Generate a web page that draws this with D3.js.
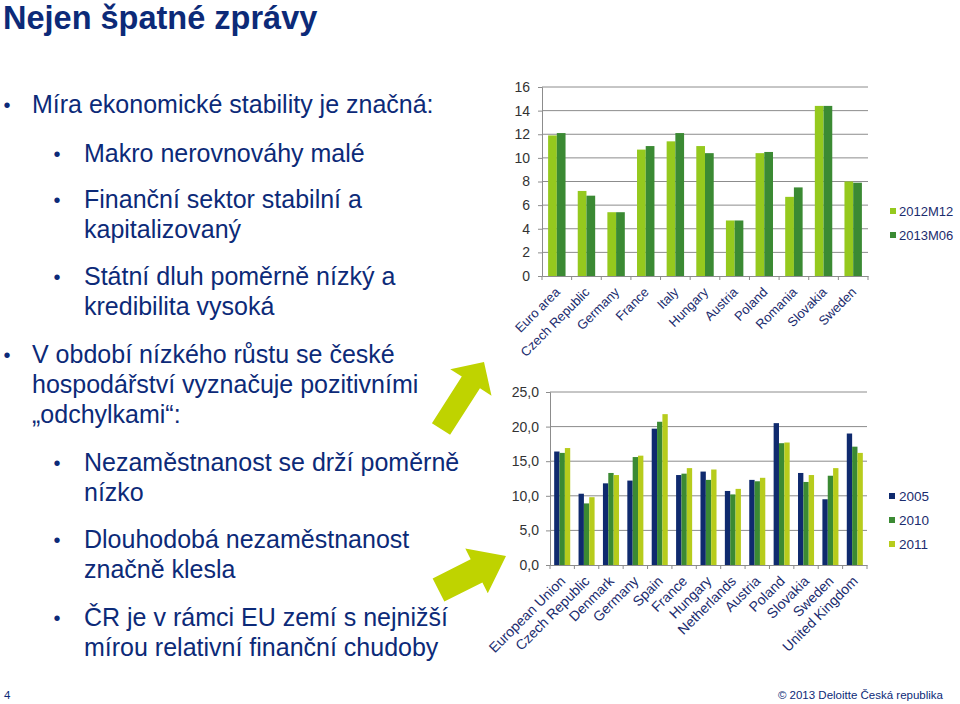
<!DOCTYPE html>
<html><head><meta charset="utf-8">
<script src="https://cdn.jsdelivr.net/npm/d3@7"></script>
<style>
html,body{margin:0;padding:0;background:#fff;}
svg{display:block;font-family:"Liberation Sans",Arial,Helvetica,sans-serif;}
</style></head>
<body>
<script>
// ---------- DATA ----------
const topCategories = ["Euro area","Czech Republic","Germany","France","Italy","Hungary","Austria","Poland","Romania","Slovakia","Sweden"];
const topSeriesNames = ["2012M12","2013M06"];
const top2012M12 = [11.9,7.2,5.4,10.7,11.4,11.0,4.7,10.4,6.7,14.4,8.0];
const top2013M06 = [12.1,6.8,5.4,11.0,12.1,10.4,4.7,10.5,7.5,14.4,7.9];
const topTicks = [0,2,4,6,8,10,12,14,16];

const bottomCategories = ["European Union","Czech Republic","Denmark","Germany","Spain","France","Hungary","Netherlands","Austria","Poland","Slovakia","Sweden","United Kingdom"];
const bottomSeriesNames = ["2005","2010","2011"];
const bottom2005 = [16.4,10.3,11.8,12.2,19.7,13.0,13.5,10.7,12.3,20.5,13.3,9.5,19.0];
const bottom2010 = [16.2,8.9,13.3,15.6,20.7,13.2,12.3,10.2,12.1,17.6,12.0,12.9,17.1];
const bottom2011 = [16.9,9.8,13.0,15.8,21.8,14.0,13.8,11.0,12.6,17.7,13.0,14.0,16.2];
const bottomTicks = [0,5,10,15,20,25];

const titleText = "Nejen špatné zprávy";
const bulletLines = [
  {lvl:0, lines:["Míra ekonomické stability je značná:"], y:113},
  {lvl:1, lines:["Makro nerovnováhy malé"], y:162},
  {lvl:1, lines:["Finanční sektor stabilní a","kapitalizovaný"], y:208},
  {lvl:1, lines:["Státní dluh poměrně nízký a","kredibilita vysoká"], y:285},
  {lvl:0, lines:["V období nízkého růstu se české","hospodářství vyznačuje pozitivními","„odchylkami“:"], y:363},
  {lvl:1, lines:["Nezaměstnanost se drží poměrně","nízko"], y:471},
  {lvl:1, lines:["Dlouhodobá nezaměstnanost","značně klesla"], y:548},
  {lvl:1, lines:["ČR je v rámci EU zemí s nejnižší","mírou relativní finanční chudoby"], y:626}
];

// ---------- STYLE ----------
const navy = "#0c2a78";
const labelNavy = "#1b2c6e";
const grid = "#8c8c8c";
const topColors = ["#95c91e","#3b8a33"];
const bottomColors = ["#0f2a6e","#3b8a33","#b7cc1c"];
const lime = "#bfd300";

const svg = d3.select("body").append("svg").attr("width",960).attr("height",704);

// Title
svg.append("text").attr("x",3).attr("y",29).attr("font-size",32.5).attr("font-weight","bold")
  .attr("fill",navy).text(titleText);

// Bullets
bulletLines.forEach(b=>{
  const bx = b.lvl===0 ? 7 : 57;
  const tx = b.lvl===0 ? 32 : 84;
  svg.append("text").attr("x",bx).attr("y",b.y-1).attr("text-anchor","middle")
    .attr("font-size",20).attr("fill",navy).text("•");
  b.lines.forEach((l,i)=>{
    svg.append("text").attr("x",tx).attr("y",b.y+i*30).attr("font-size",25)
      .attr("fill",navy).text(l);
  });
});

// Arrows
function arrowPts(B,T,s,h,L){
  const dx=T[0]-B[0], dy=T[1]-B[1], len=Math.hypot(dx,dy);
  const u=[dx/len,dy/len], n=[-u[1],u[0]];
  const H=[T[0]-u[0]*L, T[1]-u[1]*L];
  const p=(c,k)=>[c[0]+n[0]*k, c[1]+n[1]*k];
  return [p(B,-s),p(H,-s),p(H,-h),T,p(H,h),p(H,s),p(B,s)];
}
svg.append("polygon").attr("points",arrowPts([441,429],[484,362],10.8,24.5,24.3).join(" ")).attr("fill",lime);
svg.append("polygon").attr("points",arrowPts([438.5,590],[506,556],13,25,33).join(" ")).attr("fill",lime);

// ---------- TOP CHART ----------
(function(){
  const x0 = d3.scaleBand().domain(topCategories).range([542,868]).padding(0);
  const x1 = d3.scaleBand().domain(topSeriesNames).range([0,x0.bandwidth()]).paddingInner(0).paddingOuter(0.7);
  const y = d3.scaleLinear().domain([0,16]).range([276,87]);
  const g = svg.append("g");
  g.selectAll("line.grid").data(topTicks.filter(t=>t>0)).join("line")
    .attr("x1",542).attr("x2",868).attr("y1",d=>y(d)).attr("y2",d=>y(d))
    .attr("stroke",grid).attr("stroke-width",1);
  const yAxis = d3.axisLeft(y).tickValues(topTicks).tickSize(4).tickPadding(8).tickFormat(d3.format("d"));
  const ya = g.append("g").attr("transform","translate(542,0)").call(yAxis);
  ya.select(".domain").attr("stroke",grid);
  ya.selectAll(".tick line").attr("stroke",grid);
  ya.selectAll(".tick text").attr("font-size",14).attr("fill","#333").attr("font-family","Liberation Sans, Arial, sans-serif");
  const series = [top2012M12, top2013M06];
  series.forEach((vals,si)=>{
    g.selectAll(null).data(vals).join("rect")
      .attr("x",(d,i)=>x0(topCategories[i])+x1(topSeriesNames[si]))
      .attr("width",x1.bandwidth())
      .attr("y",d=>y(d)).attr("height",d=>y(0)-y(d))
      .attr("fill",topColors[si]);
  });
  const xa = g.append("g").attr("transform","translate(0,276)")
    .call(d3.axisBottom(x0).tickSize(0).tickFormat(""));
  xa.select(".domain").attr("stroke",grid);
  g.selectAll("line.xt").data(d3.range(topCategories.length+1)).join("line")
    .attr("x1",i=>542+i*x0.step()).attr("x2",i=>542+i*x0.step())
    .attr("y1",276).attr("y2",280).attr("stroke",grid);
  g.selectAll("text.cat").data(topCategories).join("text")
    .attr("transform",d=>`translate(${x0(d)+x0.bandwidth()/2+4},${276+17}) rotate(-45)`)
    .attr("text-anchor","end").attr("font-size",13).attr("fill",labelNavy).text(d=>d);
  topSeriesNames.forEach((s,i)=>{
    svg.append("rect").attr("x",890).attr("y",208+i*24).attr("width",6).attr("height",6).attr("fill",topColors[i]);
    svg.append("text").attr("x",899).attr("y",216+i*24).attr("font-size",13).attr("fill",labelNavy).text(s);
  });
})();

// ---------- BOTTOM CHART ----------
(function(){
  const x0 = d3.scaleBand().domain(bottomCategories).range([550,867]).padding(0);
  const x1 = d3.scaleBand().domain(bottomSeriesNames).range([0,x0.bandwidth()]).paddingInner(0).paddingOuter(0.78);
  const y = d3.scaleLinear().domain([0,25]).range([565,392]);
  const g = svg.append("g");
  g.selectAll("line.grid").data(bottomTicks.filter(t=>t>0)).join("line")
    .attr("x1",550).attr("x2",867).attr("y1",d=>y(d)).attr("y2",d=>y(d))
    .attr("stroke",grid).attr("stroke-width",1);
  const fmt = d=>d3.format(".1f")(d).replace(".",",");
  const yAxis = d3.axisLeft(y).tickValues(bottomTicks).tickSize(4).tickPadding(7).tickFormat(fmt);
  const ya = g.append("g").attr("transform","translate(550,0)").call(yAxis);
  ya.select(".domain").attr("stroke",grid);
  ya.selectAll(".tick line").attr("stroke",grid);
  ya.selectAll(".tick text").attr("font-size",14).attr("fill","#333").attr("font-family","Liberation Sans, Arial, sans-serif");
  const series = [bottom2005,bottom2010,bottom2011];
  series.forEach((vals,si)=>{
    g.selectAll(null).data(vals).join("rect")
      .attr("x",(d,i)=>x0(bottomCategories[i])+x1(bottomSeriesNames[si]))
      .attr("width",x1.bandwidth())
      .attr("y",d=>y(d)).attr("height",d=>y(0)-y(d))
      .attr("fill",bottomColors[si]);
  });
  const xa = g.append("g").attr("transform","translate(0,565)")
    .call(d3.axisBottom(x0).tickSize(0).tickFormat(""));
  xa.select(".domain").attr("stroke",grid);
  g.selectAll("line.xt").data(d3.range(bottomCategories.length+1)).join("line")
    .attr("x1",i=>550+i*x0.step()).attr("x2",i=>550+i*x0.step())
    .attr("y1",565).attr("y2",569).attr("stroke",grid);
  g.selectAll("text.cat").data(bottomCategories).join("text")
    .attr("transform",d=>`translate(${x0(d)+x0.bandwidth()/2+4},${565+17}) rotate(-45)`)
    .attr("text-anchor","end").attr("font-size",14).attr("fill",labelNavy).text(d=>d);
  bottomSeriesNames.forEach((s,i)=>{
    svg.append("rect").attr("x",889).attr("y",493+i*24).attr("width",6).attr("height",6).attr("fill",bottomColors[i]);
    svg.append("text").attr("x",899).attr("y",501+i*24).attr("font-size",13.5).attr("fill",labelNavy).text(s);
  });
})();

// Footer
svg.append("text").attr("x",4).attr("y",699).attr("font-size",11.5).attr("fill",navy).text("4");
svg.append("text").attr("x",943).attr("y",699).attr("text-anchor","end").attr("font-size",11.5).attr("fill",navy).text("© 2013 Deloitte Česká republika");
</script>
</body></html>
